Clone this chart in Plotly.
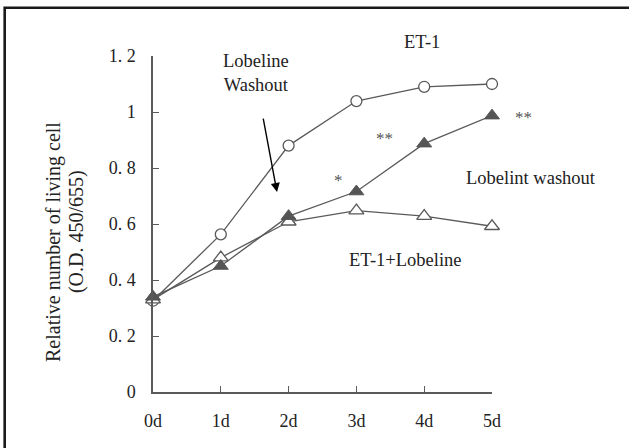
import plotly.graph_objects as go

days = ["0d", "1d", "2d", "3d", "4d", "5d"]
x_pos = [0, 1, 2, 3, 4, 5]
et1 = [0.326, 0.563, 0.88, 1.039, 1.09, 1.10]
lobeline_washout = [0.34, 0.45, 0.628, 0.716, 0.887, 0.987]
et1_lobeline = [0.33, 0.48, 0.608, 0.648, 0.628, 0.592]
y_ticks = [0, 0.2, 0.4, 0.6, 0.8, 1.0, 1.2]
y_tick_labels = ["0", "0. 2", "0. 4", "0. 6", "0. 8", "1", "1. 2"]

FONT = "Liberation Serif, Times New Roman, serif"
LINE = "#5a5a5a"
TXT = "#222222"

fig = go.Figure()
fig.add_trace(go.Scatter(x=x_pos, y=et1, mode="lines+markers", name="ET-1",
                         line=dict(color=LINE, width=1.3), cliponaxis=False,
                         marker=dict(symbol="circle", size=11, color="white",
                                     line=dict(color=LINE, width=1.3))))
fig.add_trace(go.Scatter(x=x_pos, y=et1_lobeline, mode="lines+markers", name="ET-1+Lobeline",
                         line=dict(color=LINE, width=1.3), cliponaxis=False,
                         marker=dict(symbol="triangle-up", size=13, color="white",
                                     line=dict(color=LINE, width=1.3))))
fig.add_trace(go.Scatter(x=x_pos, y=lobeline_washout, mode="lines+markers", name="Lobeline washout",
                         line=dict(color=LINE, width=1.3), cliponaxis=False,
                         marker=dict(symbol="triangle-up", size=13, color="#555555",
                                     line=dict(color="#555555", width=1))))

ann = []
def txt(x, y, s, size=18.5, ref="data", color=TXT):
    r = ("x", "y") if ref == "data" else ("paper", "paper")
    ann.append(dict(x=x, y=y, xref=r[0], yref=r[1], text=s, showarrow=False,
                    xanchor="center", yanchor="middle",
                    font=dict(family=FONT, size=size, color=color)))

txt(0.794, 1.042, "ET-1", ref="paper")
txt(1.52, 1.141, "Lobeline<br>Washout")
txt(2.73, 0.755, "*", 17, color="#555555")
txt(3.42, 0.905, "**", 17, color="#555555")
txt(1.092, 0.817, "**", 17, ref="paper", color="#555555")
txt(1.115, 0.637, "Lobelint washout", ref="paper")
txt(3.73, 0.471, "ET-1+Lobeline")
ann.append(dict(x=1.829, y=0.714, ax=1.622, ay=0.982, xref="x", yref="y", axref="x", ayref="y",
                showarrow=True, arrowhead=2, arrowsize=1.3, arrowwidth=1.4, arrowcolor="#000000",
                text=""))
ann.append(dict(x=-0.295, y=0.4464, xref="paper", yref="paper", textangle=-90, showarrow=False,
                xanchor="center", yanchor="middle",
                text="Relative number of living cell",
                font=dict(family=FONT, size=20, color=TXT)))
ann.append(dict(x=-0.227, y=0.476, xref="paper", yref="paper", textangle=-90, showarrow=False,
                xanchor="center", yanchor="middle",
                text="(O.D. 450/655)",
                font=dict(family=FONT, size=20, color=TXT)))

fig.update_layout(
    width=629, height=448,
    margin=dict(l=153, r=137, t=56, b=56),
    paper_bgcolor="white", plot_bgcolor="white",
    showlegend=False,
    annotations=ann,
    shapes=[dict(type="rect", xref="paper", yref="paper",
                 x0=-0.4375, x1=1.5, y0=-0.3, y1=1.1435,
                 line=dict(color="#1a1a1a", width=2.6), layer="below")],
)
fig.update_xaxes(range=[0, 5], tickmode="array", tickvals=x_pos, ticktext=days,
                 showgrid=False, zeroline=False, showline=True, linecolor=LINE, linewidth=1.5,
                 ticks="inside", ticklen=6, tickcolor=LINE, ticklabelstandoff=12,
                 tickfont=dict(family=FONT, size=18, color=TXT))
fig.update_yaxes(range=[0, 1.2], tickmode="array", tickvals=y_ticks, ticktext=y_tick_labels,
                 showgrid=False, zeroline=False, showline=True, linecolor=LINE, linewidth=1.5,
                 ticks="inside", ticklen=6, tickcolor=LINE, ticklabelstandoff=12,
                 tickfont=dict(family=FONT, size=18, color=TXT))

fig.write_html("out.html", config={"displayModeBar": False},
               post_script="document.body.style.margin='0';")
